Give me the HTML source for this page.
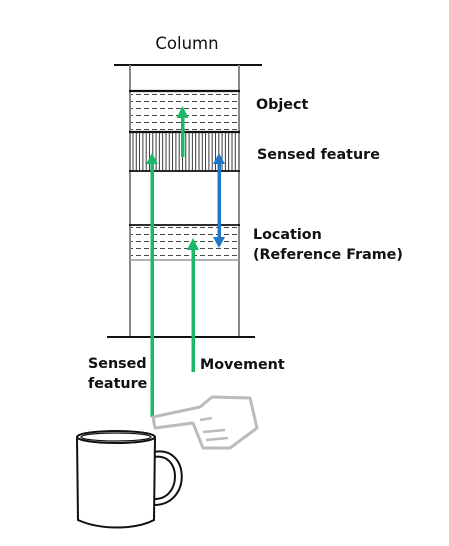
<!DOCTYPE html>
<html><head><meta charset="utf-8"><style>
html,body{margin:0;padding:0;background:#fff;}
svg{display:block;}
text{font-family:"DejaVu Sans","Liberation Sans",sans-serif;}
</style></head><body>
<svg width="449" height="546" viewBox="0 0 449 546" xmlns="http://www.w3.org/2000/svg">
<defs>
<pattern id="dash" width="8" height="7" patternUnits="userSpaceOnUse"><line x1="0" y1="3.5" x2="5" y2="3.5" stroke="#333" stroke-width="0.9"/></pattern>
<pattern id="vert" width="3.3" height="10" patternUnits="userSpaceOnUse"><line x1="1" y1="0" x2="1" y2="10" stroke="#222" stroke-width="0.9"/></pattern>
</defs>
<text x="187" y="49" font-size="16.5" text-anchor="middle" fill="#111">Column</text>
<line x1="114" y1="65" x2="262" y2="65" stroke="#111" stroke-width="2"/>
<line x1="130" y1="65" x2="130" y2="336" stroke="#888" stroke-width="2"/>
<line x1="239" y1="65" x2="239" y2="336" stroke="#888" stroke-width="2"/>
<rect x="131" y="92" width="107" height="40" fill="url(#dash)"/>
<rect x="131" y="133" width="107" height="38" fill="url(#vert)"/>
<line x1="129" y1="91" x2="240" y2="91" stroke="#111" stroke-width="2.2"/>
<line x1="129" y1="132" x2="240" y2="132" stroke="#111" stroke-width="2.2"/>
<line x1="129" y1="171" x2="240" y2="171" stroke="#111" stroke-width="1.7"/>
<rect x="131" y="227" width="107" height="32" fill="url(#dash)"/>
<line x1="129" y1="225" x2="240" y2="225" stroke="#111" stroke-width="1.7"/>
<line x1="129" y1="260" x2="240" y2="260" stroke="#999" stroke-width="1.5"/>
<line x1="107" y1="337" x2="255" y2="337" stroke="#111" stroke-width="2"/>
<g fill="#1cb86a" stroke="none">
<rect x="150.5" y="163" width="3.5" height="254"/><polygon points="152,153 146,164 158,164"/>
<rect x="191.5" y="249" width="3.5" height="123"/><polygon points="193,238 187,250 199,250"/>
<rect x="181" y="117" width="3.5" height="40"/><polygon points="182.5,106 176.5,118 188.5,118"/>
</g>
<g fill="#1f77c8"><rect x="217.5" y="163" width="3.5" height="75"/><polygon points="219,153 213,164 225,164"/><polygon points="219,248 213,237 225,237"/></g>
<g font-size="14.3" font-weight="bold" fill="#111">
<text x="256" y="109">Object</text>
<text x="257" y="159">Sensed feature</text>
<text x="253" y="239">Location</text>
<text x="253" y="259">(Reference Frame)</text>
<text x="88" y="368">Sensed</text>
<text x="88" y="388">feature</text>
<text x="200" y="369">Movement</text>
</g>
<path d="M153,417 L200,407 L212,397 L250,398 L257,428 L230,448 L203,448 L193,423 L155,428 Z" fill="#fff" stroke="#bbb" stroke-width="3" stroke-linejoin="round"/>
<path d="M200,420 L212,418 M203,432 L225,430 M206,440 L228,438" stroke="#bbb" stroke-width="2.5" fill="none"/>
<path d="M154,452 C190,445 192,505 154,505" fill="none" stroke="#111" stroke-width="2"/>
<path d="M154,457 C182,452 182,500 154,499" fill="none" stroke="#111" stroke-width="2"/>
<path d="M77,437 L78,520 C100,530 135,530 154,520 L155,437" fill="#fff" stroke="#111" stroke-width="2"/>
<ellipse cx="116" cy="437" rx="39" ry="6" fill="#fff" stroke="#111" stroke-width="2"/>
<ellipse cx="116" cy="437" rx="35" ry="4" fill="none" stroke="#111" stroke-width="1.2"/>
</svg>
</body></html>
